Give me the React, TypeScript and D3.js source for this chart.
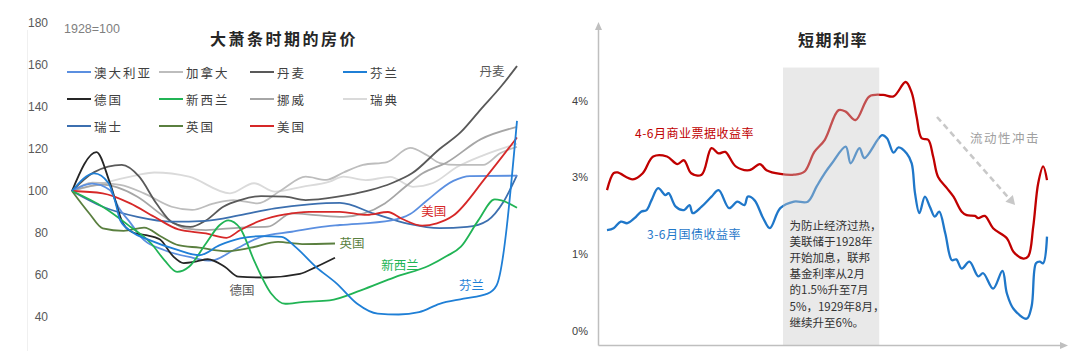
import React from "react";
import * as d3 from "d3";

// ---------------- Left chart data: house prices, 1928 = 100 ----------------
const AUSTRALIA: [number, number][] = [[1928,100],[1928.45,103.5],[1928.85,100.5],[1929.05,92],[1929.27,86],[1929.62,76.6],[1930.08,71.8],[1930.7,68.3],[1931.12,66.8],[1931.63,71.8],[1932.25,78.2],[1932.94,80.6],[1933.71,83.2],[1934.02,83.8],[1935.18,86],[1935.6,89],[1935.95,95],[1936.57,104.8],[1936.94,107.1],[1938,107.3]];
const CANADA: [number, number][] = [[1928,100],[1928.46,104],[1929.08,102.9],[1929.62,98.9],[1930.24,92.5],[1930.7,91],[1931.17,94],[1931.63,95.7],[1932.17,94.1],[1932.71,100.5],[1933.25,106.8],[1933.71,105.3],[1934.1,108.8],[1934.54,112.4],[1935.08,113.8],[1935.6,120.5],[1935.98,117],[1936.27,113.3],[1936.65,112.4],[1937.24,112.4],[1937.62,118],[1938,121]];
const DENMARK: [number, number][] = [[1928,100],[1928.5,109],[1929.12,112.4],[1929.51,106.8],[1929.89,94.3],[1930.27,84.8],[1930.66,82.9],[1931.01,86],[1931.4,92.5],[1931.78,95.7],[1932.25,97.6],[1932.79,97.3],[1933.25,95.7],[1933.71,96.5],[1934.18,98],[1934.72,100.5],[1935.18,103.7],[1935.64,108.4],[1936.26,120],[1936.73,127.9],[1937.19,139],[1937.65,150],[1938,159.5]];
const FINLAND: [number, number][] = [[1928,100],[1928.5,108.4],[1928.82,103.8],[1928.98,94.3],[1929.08,86.2],[1929.35,80.5],[1929.73,76.7],[1930.39,71.8],[1930.86,69.4],[1931.32,74.2],[1931.78,77.4],[1932.25,78.5],[1932.71,78.2],[1933.02,73.4],[1933.48,63.9],[1933.95,55.9],[1934.41,46.3],[1934.87,41.6],[1935.34,41.2],[1935.8,42.3],[1936.26,46.3],[1936.8,48.7],[1937.34,51.1],[1937.54,55],[1938,133.4]];
const GERMANY: [number, number][] = [[1928,100],[1928.55,118.5],[1928.85,104],[1929.16,84],[1929.4,80],[1929.66,79],[1929.97,77],[1930.27,69],[1930.51,65.7],[1930.8,66.5],[1931.05,67.5],[1931.44,63.8],[1931.74,59.2],[1932.36,58.8],[1933.12,60.5],[1933.5,64],[1933.91,68.2]];
const NEW_ZEALAND: [number, number][] = [[1928,100],[1928.69,92.5],[1929.31,83],[1929.78,75],[1930.08,67],[1930.36,61.5],[1930.63,63.9],[1931.01,75],[1931.32,83.8],[1931.51,86],[1931.78,82.2],[1932.09,67],[1932.48,51.1],[1932.79,46.3],[1933.17,47.1],[1933.79,47.9],[1934.49,52.7],[1935.26,59],[1936.03,64.5],[1936.42,69],[1936.74,73.5],[1937.13,86],[1937.5,96],[1937.65,95.5],[1938,92]];
const NORWAY: [number, number][] = [[1928,100],[1928.69,103],[1929.47,97.3],[1930.08,87.7],[1930.55,82.2],[1931.01,81.4],[1931.78,82.6],[1932.4,83],[1932.94,89.3],[1933.48,88.5],[1934.1,87.7],[1934.56,89.3],[1935.03,94.1],[1935.49,102],[1935.88,108.4],[1936.42,113.6],[1937.19,124.7],[1938,130.5]];
const SWEDEN: [number, number][] = [[1928,100],[1928.69,103.7],[1929.47,107.6],[1929.85,108.8],[1930.63,106.8],[1931.55,98.9],[1932.09,103.7],[1932.56,99.7],[1933.17,102],[1933.79,104.5],[1934.1,106.8],[1934.6,105.2],[1935.15,106.7],[1935.66,102],[1936.11,103.8],[1936.65,111.4],[1937.24,117],[1938,122.5]];
const SWITZERLAND: [number, number][] = [[1928,100],[1928.69,92.5],[1929.47,87.7],[1930.24,85.4],[1931.01,85.8],[1931.78,88.5],[1932.56,91.7],[1933.33,93.6],[1934.02,94.3],[1934.79,89.2],[1935.57,84.3],[1936.26,82.3],[1936.88,82.9],[1937.34,86],[1937.7,95],[1938,107.6]];
const UK: [number, number][] = [[1928,100],[1928.39,89.3],[1928.69,82.2],[1929.16,81],[1929.62,82.6],[1930.01,78.2],[1930.39,74.2],[1930.86,73],[1931.47,71.3],[1932.02,73],[1932.63,75.8],[1933.17,74.7],[1933.91,75]];
const USA: [number, number][] = [[1928,100],[1928.69,98.9],[1929.31,94.1],[1929.85,87.7],[1930.39,81.7],[1931.01,79.8],[1931.47,77.7],[1931.78,81.4],[1932.25,86],[1932.79,88.9],[1933.33,90.1],[1934.02,90.1],[1934.63,88.6],[1935.1,90],[1935.41,86.8],[1935.87,83.5],[1936.2,84.6],[1936.57,88.3],[1937.3,106.5],[1938,125.5]];

const LEFT_Y_TICKS = [40, 60, 80, 100, 120, 140, 160, 180];

const SERIES = [
  { name: "澳大利亚", color: "#5b8fe0", data: AUSTRALIA },
  { name: "加拿大", color: "#bdbdbd", data: CANADA },
  { name: "丹麦", color: "#595959", data: DENMARK },
  { name: "芬兰", color: "#1f7fd6", data: FINLAND },
  { name: "德国", color: "#262626", data: GERMANY },
  { name: "新西兰", color: "#21b455", data: NEW_ZEALAND },
  { name: "挪威", color: "#a6a6a6", data: NORWAY },
  { name: "瑞典", color: "#dadada", data: SWEDEN },
  { name: "瑞士", color: "#3c6faf", data: SWITZERLAND },
  { name: "英国", color: "#5a7f3f", data: UK },
  { name: "美国", color: "#d62828", data: USA },
];
// draw order (light first)
const DRAW_ORDER = ["瑞典", "加拿大", "挪威", "丹麦", "瑞士", "澳大利亚", "英国", "德国", "美国", "新西兰", "芬兰"];

const END_LABELS = [
  { name: "丹麦", year: 1937.44, value: 157.6 },
  { name: "美国", year: 1936.13, value: 90.5 },
  { name: "英国", year: 1934.29, value: 75.7 },
  { name: "新西兰", year: 1935.37, value: 65.2 },
  { name: "德国", year: 1931.82, value: 52.9 },
  { name: "芬兰", year: 1936.98, value: 55.5 },
];

// ---------------- Right chart data: short-term rates ----------------
const CP_RATE: [number, number][] = [[1925,2.66],[1925.12,3.05],[1925.19,3.06],[1925.47,2.94],[1925.65,3.05],[1925.84,3.27],[1926.09,3.27],[1926.28,3.17],[1926.4,3.22],[1926.53,3.05],[1926.72,3.03],[1926.9,3.38],[1927.03,3.31],[1927.15,3.33],[1927.34,3.14],[1927.59,3.09],[1927.78,3.17],[1927.9,3.09],[1928.15,3.04],[1928.4,3.03],[1928.59,3.07],[1928.77,3.33],[1928.96,3.49],[1929.21,3.88],[1929.34,3.86],[1929.52,3.75],[1929.77,4.06],[1930.02,4.08],[1930.21,4.06],[1930.43,4.25],[1930.54,4.11],[1930.63,3.79],[1930.72,3.51],[1930.84,3.49],[1930.93,3.27],[1931.02,3.0],[1931.18,2.71],[1931.3,2.49],[1931.45,2.1],[1931.54,2.01],[1931.69,1.99],[1931.75,1.93],[1931.87,1.99],[1932.02,1.67],[1932.27,1.41],[1932.39,1.06],[1932.57,0.94],[1932.66,0.97],[1932.75,1.71],[1932.84,2.84],[1932.93,3.14],[1933,2.92]];
const TBILL_RATE: [number, number][] = [[1925,1.62],[1925.12,1.67],[1925.25,1.84],[1925.37,1.8],[1925.5,1.93],[1925.62,2.1],[1925.72,2.14],[1925.81,2.4],[1925.93,2.71],[1926.06,2.53],[1926.12,2.58],[1926.25,2.23],[1926.4,2.14],[1926.5,2.27],[1926.56,2.06],[1926.72,2.23],[1926.9,2.49],[1927.03,2.66],[1927.22,2.19],[1927.37,2.36],[1927.5,2.27],[1927.56,2.49],[1927.68,2.4],[1927.84,1.93],[1927.96,1.67],[1928.15,2.19],[1928.4,2.36],[1928.65,2.36],[1928.81,2.75],[1928.96,3.05],[1929.09,3.18],[1929.34,3.4],[1929.43,3.18],[1929.59,3.38],[1929.68,3.25],[1930,3.55],[1930.09,3.51],[1930.21,3.32],[1930.3,3.39],[1930.45,3.31],[1930.54,3.18],[1930.6,2.58],[1930.68,2.06],[1930.78,2.49],[1930.87,2.23],[1930.96,1.97],[1931.04,2.1],[1931.15,1.54],[1931.27,0.92],[1931.35,0.93],[1931.45,0.81],[1931.59,0.9],[1931.75,0.71],[1931.84,0.75],[1932.02,0.55],[1932.19,0.78],[1932.27,0.49],[1932.39,0.29],[1932.63,0.16],[1932.72,0.32],[1932.8,0.88],[1932.87,0.9],[1932.93,0.88],[1933,1.45]];

const RIGHT_Y_TICKS = [0, 1, 3, 4];
const RIGHT_Y_LABELS = ["0%", "1%", "3%", "4%"];
const TIGHTENING: [number, number] = [1928.2, 1929.95];
const NOTE_LINES = ["为防止经济过热，", "美联储于1928年", "开始加息，联邦", "基金利率从2月", "的1.5%升至7月", "5%，1929年8月，", "继续升至6%。"];

const CJK = "'Noto Sans CJK SC', 'Noto Sans', sans-serif";
const NUM = "'Liberation Sans', Arial, sans-serif";

export default function App() {
  // left scales
  const xL = d3.scaleLinear().domain([1928, 1938]).range([72, 517]);
  const yL = d3.scaleLinear().domain([40, 180]).range([317, 23]);
  const lineL = d3.line<[number, number]>().x(d => xL(d[0])).y(d => yL(d[1])).curve(d3.curveMonotoneX);
  const byName = new Map(SERIES.map(s => [s.name, s]));

  // right scales
  const xR = d3.scaleLinear().domain([1925, 1933]).range([607, 1047]);
  const yR = d3.scaleLinear().domain([0, 1, 3, 4]).range([331, 254, 177, 101]);
  const lineR = d3.line<[number, number]>().x(d => xR(d[0])).y(d => yR(d[1])).curve(d3.curveCatmullRom.alpha(0.5));

  const axisColor = "#bfbfbf";
  const axX0 = 598.5, axY0 = 345.5, axTop = 22, axRight = 1068;

  const arrowStart: [number, number] = [xR(1931.0), yR(3.79)];
  const arrowEnd: [number, number] = [xR(1932.42), yR(2.27)];
  const ang = Math.atan2(arrowEnd[1] - arrowStart[1], arrowEnd[0] - arrowStart[0]);
  const ah = 9, aw = 5;
  const tip = arrowEnd;
  const base = [tip[0] - ah * Math.cos(ang), tip[1] - ah * Math.sin(ang)];
  const p1 = [base[0] + aw * Math.sin(ang), base[1] - aw * Math.cos(ang)];
  const p2 = [base[0] - aw * Math.sin(ang), base[1] + aw * Math.cos(ang)];

  const legendCols = [67, 159, 250, 343];
  const legendRows = [72, 99, 126];

  return (
    <svg width={1080} height={351} style={{ position: "absolute", left: 0, top: 0, background: "#fff" }}>
      {/* ===== LEFT CHART ===== */}
      <line x1={27.5} x2={27.5} y1={30} y2={351} stroke="#f0f0f0" strokeWidth={1} />
      {LEFT_Y_TICKS.map(t => (
        <text key={t} x={48} y={yL(t)} textAnchor="end" dominantBaseline="central" fontFamily={NUM} fontSize={12} fill="#595959">{t}</text>
      ))}
      <text x={64} y={29} dominantBaseline="central" fontFamily={NUM} fontSize={12.5} fill="#7f7f7f">1928=100</text>
      <text x={284} y={38} textAnchor="middle" dominantBaseline="central" fontFamily={CJK} fontSize={16} fontWeight="bold" letterSpacing={2.5} fill="#262626">大萧条时期的房价</text>

      {SERIES.map((s, i) => {
        const cx = legendCols[i % 4];
        const cy = legendRows[Math.floor(i / 4)];
        return (
          <g key={s.name}>
            <line x1={cx} x2={cx + 24} y1={cy} y2={cy} stroke={s.color} strokeWidth={2} />
            <text x={cx + 27} y={cy} dominantBaseline="central" fontFamily={CJK} fontSize={12.5} letterSpacing={2} fill="#404040">{s.name}</text>
          </g>
        );
      })}

      {DRAW_ORDER.map(n => {
        const s = byName.get(n)!;
        return <path key={n} d={lineL(s.data) || ""} fill="none" stroke={s.color} strokeWidth={1.8} />;
      })}

      {END_LABELS.map(l => (
        <text key={l.name} x={xL(l.year)} y={yL(l.value)} textAnchor="middle" dominantBaseline="central" fontFamily={CJK} fontSize={12.5}
          fill={l.name === "德国" || l.name === "丹麦" ? "#595959" : byName.get(l.name)!.color}>{l.name}</text>
      ))}

      {/* ===== RIGHT CHART ===== */}
      <text x={833} y={39} textAnchor="middle" dominantBaseline="central" fontFamily={CJK} fontSize={16} fontWeight="bold" letterSpacing={1.5} fill="#262626">短期利率</text>

      {RIGHT_Y_TICKS.map((t, i) => (
        <text key={t} x={588} y={yR(t)} textAnchor="end" dominantBaseline="central" fontFamily={NUM} fontSize={11} fill="#404040">{RIGHT_Y_LABELS[i]}</text>
      ))}

      <path d={lineR(CP_RATE) || ""} fill="none" stroke="#c00000" strokeWidth={2.3} />
      <path d={lineR(TBILL_RATE) || ""} fill="none" stroke="#1f77c9" strokeWidth={2.3} />

      <rect x={xR(TIGHTENING[0])} y={yR(4.44)} width={xR(TIGHTENING[1]) - xR(TIGHTENING[0])} height={axY0 - yR(4.44)} fill="#c8c8c8" fillOpacity={0.4} />

      {NOTE_LINES.map((t, i) => (
        <text key={i} x={789.5} y={225 + i * 16.1} dominantBaseline="central" fontFamily={CJK} fontSize={11.5} fill="#333">{t}</text>
      ))}

      <text x={635} y={132} dominantBaseline="central" fontFamily={CJK} fontSize={12} letterSpacing={0.5} fill="#c00000">4-6月商业票据收益率</text>
      <text x={647} y={233} dominantBaseline="central" fontFamily={CJK} fontSize={12} letterSpacing={0.5} fill="#1f77c9">3-6月国债收益率</text>
      <text x={970} y={137} dominantBaseline="central" fontFamily={CJK} fontSize={12.5} letterSpacing={1.5} fill="#a0a0a0">流动性冲击</text>

      <line x1={arrowStart[0]} y1={arrowStart[1]} x2={base[0]} y2={base[1]} stroke="#c8c8c8" strokeWidth={2.5} strokeDasharray="6,4" />
      <polygon points={`${tip[0]},${tip[1]} ${p1[0]},${p1[1]} ${p2[0]},${p2[1]}`} fill="#c8c8c8" />

      {/* axes */}
      <line x1={axX0} x2={axX0} y1={axY0} y2={axTop + 6} stroke={axisColor} strokeWidth={1.5} />
      <polygon points={`${axX0},${axTop} ${axX0 - 3.5},${axTop + 8} ${axX0 + 3.5},${axTop + 8}`} fill={axisColor} />
      <line x1={axX0} x2={axRight - 6} y1={axY0} y2={axY0} stroke={axisColor} strokeWidth={1.5} />
      <polygon points={`${axRight},${axY0} ${axRight - 8},${axY0 - 3.5} ${axRight - 8},${axY0 + 3.5}`} fill={axisColor} />
    </svg>
  );
}
